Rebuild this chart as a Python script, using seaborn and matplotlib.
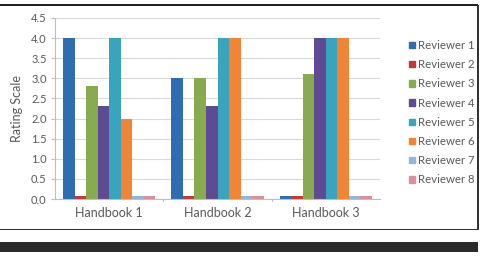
import matplotlib
matplotlib.use("Agg")
import matplotlib.pyplot as plt
import seaborn as sns
import pandas as pd
from matplotlib.patches import Rectangle
from matplotlib.lines import Line2D

categories = ["Handbook 1", "Handbook 2", "Handbook 3"]
reviewers = ["Reviewer 1", "Reviewer 2", "Reviewer 3", "Reviewer 4",
             "Reviewer 5", "Reviewer 6", "Reviewer 7", "Reviewer 8"]
r1 = [4.0, 3.0, 0.07]
r2 = [0.07, 0.07, 0.07]
r3 = [2.8, 3.0, 3.1]
r4 = [2.3, 2.3, 4.0]
r5 = [4.0, 4.0, 4.0]
r6 = [2.0, 4.0, 4.0]
r7 = [0.07, 0.07, 0.07]
r8 = [0.07, 0.07, 0.07]
yticks = [0.0, 0.5, 1.0, 1.5, 2.0, 2.5, 3.0, 3.5, 4.0, 4.5]

colors = ["#2e6eb0", "#be3b36", "#88ab4f", "#5f4b94",
          "#3aa3bd", "#ef8535", "#93b6dc", "#d9919b"]

series = [r1, r2, r3, r4, r5, r6, r7, r8]
rows = []
for name, vals in zip(reviewers, series):
    for c, v in zip(categories, vals):
        rows.append({"Handbook": c, "Reviewer": name, "Score": v})
df = pd.DataFrame(rows)

sns.set_theme(style="white")
plt.rcParams['font.family'] = ['Lato', 'DejaVu Sans']

fig = plt.figure(figsize=(4.82, 2.6), dpi=100)
ax = fig.add_axes([55/482, 1-199/260, (380-55)/482, (199-18)/260])

sns.barplot(data=df, x="Handbook", y="Score", hue="Reviewer",
            palette=colors, width=0.85, saturation=1, ax=ax,
            order=categories, hue_order=reviewers, legend=False, errorbar=None)
for p in ax.patches:
    p.set_edgecolor("none")

ax.set_ylim(0, 4.5)
ax.set_yticks(yticks)
ax.set_yticklabels([f"{t:.1f}" for t in yticks], fontsize=8, color="#595959")
ax.set_xlim(-0.5, 2.5)
ax.set_xticks([0, 1, 2])
ax.set_xticklabels(categories, fontsize=9, color="#595959")
ax.tick_params(axis="x", length=0, pad=6)
ax.tick_params(axis="y", length=3, color="#bfbfbf", width=0.8, pad=3, left=True)
ax.set_xlabel("")
ax.set_ylabel("Rating Scale", fontsize=9, color="#595959", labelpad=6)
ax.yaxis.grid(True, color="#d9d9d9", linewidth=0.8)
ax.set_axisbelow(True)
for s in ["top", "right"]:
    ax.spines[s].set_visible(False)
for s in ["left", "bottom"]:
    ax.spines[s].set_color("#bfbfbf")
    ax.spines[s].set_linewidth(0.8)
# category separator ticks
for xb in [0.5, 1.5]:
    ax.plot([xb, xb], [0, -0.06], color="#bfbfbf", lw=0.8, clip_on=False,
            transform=ax.transData)

handles = [Rectangle((0, 0), 1, 1, color=c) for c in colors]
leg = fig.legend(handles, reviewers, loc="upper left",
                 bbox_to_anchor=(409/482, 1-40/260), frameon=False,
                 fontsize=8.2, handlelength=0.5, handleheight=0.5,
                 handletextpad=0.3, labelspacing=0.72, borderaxespad=0,
                 borderpad=0)
for t in leg.get_texts():
    t.set_color("#595959")

# outer frame and dark bar
W, H = 482, 260
fig.add_artist(Rectangle((0, 1-6/H), 478/W, 2/H,
                         transform=fig.transFigure, facecolor="#222222",
                         edgecolor="none"))
fig.add_artist(Rectangle((477/W, 1-229/H), 1.5/W, 224/H,
                         transform=fig.transFigure, facecolor="#333333",
                         edgecolor="none"))
fig.add_artist(Rectangle((0, 1-230/H), 478.5/W, 1.5/H,
                         transform=fig.transFigure, facecolor="#333333",
                         edgecolor="none"))
fig.add_artist(Rectangle((0, 1-252/H), 478/W, 10/H,
                         transform=fig.transFigure, facecolor="#2b2b2b",
                         edgecolor="none"))

fig.savefig("out.png", dpi=100)
